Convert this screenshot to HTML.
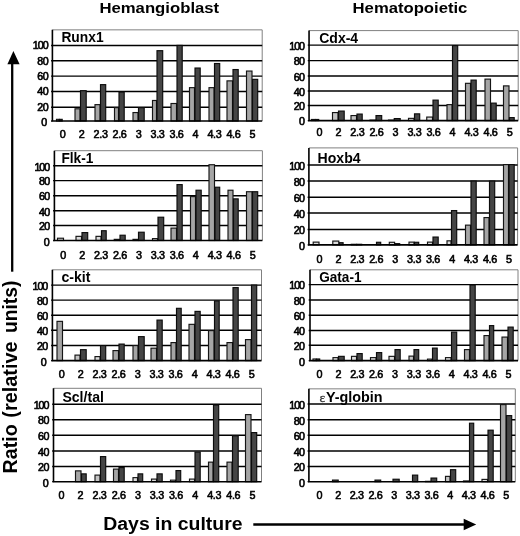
<!DOCTYPE html>
<html><head><meta charset="utf-8"><title>Figure</title>
<style>html,body{margin:0;padding:0;background:#fff}svg{display:block;filter:blur(0.4px)}</style>
</head><body>
<svg width="520" height="536" viewBox="0 0 520 536">
<rect width="520" height="536" fill="#fff"/>
<g font-family="'Liberation Sans', Arial, Helvetica, sans-serif" fill="#000">
<text x="99.4" y="13.3" font-size="15.5" font-weight="bold" textLength="119.8" lengthAdjust="spacingAndGlyphs">Hemangioblast</text>
<text x="352.6" y="13.3" font-size="15.5" font-weight="bold" textLength="114.8" lengthAdjust="spacingAndGlyphs">Hematopoietic</text>
<text transform="translate(16.6,473.4) rotate(-90) scale(1.09,1.1)" font-size="18" font-weight="bold">Ratio</text>
<text transform="translate(16.6,417.7) rotate(-90) scale(1.105,1.1)" font-size="18" font-weight="bold">(relative</text>
<text transform="translate(16.6,333.0) rotate(-90) scale(1.07,1.1)" font-size="18" font-weight="bold">units)</text>
<line x1="12.2" y1="271.7" x2="12.2" y2="63" stroke="#000" stroke-width="2.3"/>
<polygon points="13.4,51 19.6,64.3 7.4,64.3" fill="#000"/>
<text x="103.3" y="530.4" font-size="18" font-weight="bold" textLength="139.2" lengthAdjust="spacingAndGlyphs">Days in culture</text>
<line x1="253.3" y1="524.5" x2="464.5" y2="524.5" stroke="#000" stroke-width="2.3"/>
<polygon points="476.2,524.5 463.7,518.8 463.7,530.3" fill="#000"/>
<g>
<path d="M52.4 29.85 H262.2 V121.0" fill="none" stroke="#808080" stroke-width="1"/>
<line x1="51.10" y1="45.50" x2="262.20" y2="45.50" stroke="#000" stroke-width="1.45"/>
<line x1="51.10" y1="60.75" x2="262.20" y2="60.75" stroke="#000" stroke-width="1.45"/>
<line x1="51.10" y1="76.10" x2="262.20" y2="76.10" stroke="#000" stroke-width="1.45"/>
<line x1="51.10" y1="91.50" x2="262.20" y2="91.50" stroke="#000" stroke-width="1.45"/>
<line x1="51.10" y1="107.20" x2="262.20" y2="107.20" stroke="#000" stroke-width="1.45"/>
<rect x="56.50" y="119.34" width="2.50" height="1.66" fill="#dcdcdc" stroke="#151515" stroke-width="1.15"/>
<rect x="59.50" y="119.34" width="2.70" height="1.66" fill="#454545" stroke="#0c0c0c" stroke-width="1.15"/>
<rect x="75.00" y="108.78" width="5.00" height="12.22" fill="#a5a5a5" stroke="#151515" stroke-width="1.15"/>
<rect x="80.50" y="90.67" width="5.70" height="30.33" fill="#454545" stroke="#0c0c0c" stroke-width="1.15"/>
<rect x="95.00" y="104.63" width="5.00" height="16.37" fill="#a5a5a5" stroke="#151515" stroke-width="1.15"/>
<rect x="100.50" y="84.63" width="5.20" height="36.37" fill="#454545" stroke="#0c0c0c" stroke-width="1.15"/>
<rect x="114.50" y="107.65" width="4.00" height="13.35" fill="#a5a5a5" stroke="#151515" stroke-width="1.15"/>
<rect x="119.00" y="92.18" width="5.20" height="28.82" fill="#454545" stroke="#0c0c0c" stroke-width="1.15"/>
<rect x="133.00" y="112.55" width="5.00" height="8.45" fill="#a5a5a5" stroke="#151515" stroke-width="1.15"/>
<rect x="138.50" y="107.65" width="5.70" height="13.35" fill="#454545" stroke="#0c0c0c" stroke-width="1.15"/>
<rect x="152.50" y="100.48" width="4.00" height="20.52" fill="#a5a5a5" stroke="#151515" stroke-width="1.15"/>
<rect x="157.00" y="50.68" width="5.70" height="70.32" fill="#454545" stroke="#0c0c0c" stroke-width="1.15"/>
<rect x="171.00" y="103.50" width="5.50" height="17.50" fill="#a5a5a5" stroke="#151515" stroke-width="1.15"/>
<rect x="177.00" y="45.40" width="5.20" height="75.60" fill="#454545" stroke="#0c0c0c" stroke-width="1.15"/>
<rect x="189.50" y="87.65" width="5.00" height="33.35" fill="#a5a5a5" stroke="#151515" stroke-width="1.15"/>
<rect x="195.00" y="68.03" width="5.20" height="52.96" fill="#454545" stroke="#0c0c0c" stroke-width="1.15"/>
<rect x="209.00" y="87.65" width="5.00" height="33.35" fill="#a5a5a5" stroke="#151515" stroke-width="1.15"/>
<rect x="214.50" y="63.51" width="5.20" height="57.49" fill="#454545" stroke="#0c0c0c" stroke-width="1.15"/>
<rect x="227.00" y="80.86" width="5.50" height="40.14" fill="#a5a5a5" stroke="#151515" stroke-width="1.15"/>
<rect x="233.00" y="69.54" width="5.20" height="51.46" fill="#454545" stroke="#0c0c0c" stroke-width="1.15"/>
<rect x="246.50" y="71.05" width="5.50" height="49.95" fill="#a5a5a5" stroke="#151515" stroke-width="1.15"/>
<rect x="252.50" y="79.35" width="5.20" height="41.65" fill="#454545" stroke="#0c0c0c" stroke-width="1.15"/>
<path d="M52.4 29.85 V121.0 H262.2" fill="none" stroke="#000" stroke-width="1.6"/>
<line x1="51.10" y1="121.00" x2="52.4" y2="121.00" stroke="#000" stroke-width="1.3"/>
<text x="46.50" y="125.85" font-size="10.7" text-anchor="end" letter-spacing="-0.6" stroke="#000" stroke-width="0.62">0</text>
<text x="48.00" y="111.05" font-size="10.7" text-anchor="end" letter-spacing="-0.6" stroke="#000" stroke-width="0.62">20</text>
<text x="48.00" y="95.35" font-size="10.7" text-anchor="end" letter-spacing="-0.6" stroke="#000" stroke-width="0.62">40</text>
<text x="48.00" y="79.95" font-size="10.7" text-anchor="end" letter-spacing="-0.6" stroke="#000" stroke-width="0.62">60</text>
<text x="48.00" y="64.60" font-size="10.7" text-anchor="end" letter-spacing="-0.6" stroke="#000" stroke-width="0.62">80</text>
<text x="47.55" y="49.35" font-size="10.7" text-anchor="end" letter-spacing="-1.05" stroke="#000" stroke-width="0.62">100</text>
<text x="62.65" y="138.40" font-size="10.8" text-anchor="middle" letter-spacing="-0.35" stroke="#000" stroke-width="0.58">0</text>
<text x="81.62" y="138.40" font-size="10.8" text-anchor="middle" letter-spacing="-0.35" stroke="#000" stroke-width="0.58">2</text>
<text x="100.59" y="138.40" font-size="10.8" text-anchor="middle" letter-spacing="-0.35" stroke="#000" stroke-width="0.58">2.3</text>
<text x="119.56" y="138.40" font-size="10.8" text-anchor="middle" letter-spacing="-0.35" stroke="#000" stroke-width="0.58">2.6</text>
<text x="138.53" y="138.40" font-size="10.8" text-anchor="middle" letter-spacing="-0.35" stroke="#000" stroke-width="0.58">3</text>
<text x="157.50" y="138.40" font-size="10.8" text-anchor="middle" letter-spacing="-0.35" stroke="#000" stroke-width="0.58">3.3</text>
<text x="176.47" y="138.40" font-size="10.8" text-anchor="middle" letter-spacing="-0.35" stroke="#000" stroke-width="0.58">3.6</text>
<text x="195.44" y="138.40" font-size="10.8" text-anchor="middle" letter-spacing="-0.35" stroke="#000" stroke-width="0.58">4</text>
<text x="214.41" y="138.40" font-size="10.8" text-anchor="middle" letter-spacing="-0.35" stroke="#000" stroke-width="0.58">4.3</text>
<text x="233.38" y="138.40" font-size="10.8" text-anchor="middle" letter-spacing="-0.35" stroke="#000" stroke-width="0.58">4.6</text>
<text x="252.35" y="138.40" font-size="10.8" text-anchor="middle" letter-spacing="-0.35" stroke="#000" stroke-width="0.58">5</text>
<text x="61.40" y="42.30" font-size="14" font-weight="bold" textLength="42.2" lengthAdjust="spacingAndGlyphs">Runx1</text>
</g>
<g>
<path d="M54.4 150.7 H262.4 V240.5" fill="none" stroke="#808080" stroke-width="1"/>
<line x1="53.10" y1="165.75" x2="262.40" y2="165.75" stroke="#000" stroke-width="1.45"/>
<line x1="53.10" y1="180.60" x2="262.40" y2="180.60" stroke="#000" stroke-width="1.45"/>
<line x1="53.10" y1="195.70" x2="262.40" y2="195.70" stroke="#000" stroke-width="1.45"/>
<line x1="53.10" y1="210.80" x2="262.40" y2="210.80" stroke="#000" stroke-width="1.45"/>
<line x1="53.10" y1="225.50" x2="262.40" y2="225.50" stroke="#000" stroke-width="1.45"/>
<rect x="57.50" y="238.22" width="6.00" height="2.27" fill="#dcdcdc" stroke="#151515" stroke-width="1.15"/>
<rect x="76.00" y="236.35" width="5.50" height="4.15" fill="#dcdcdc" stroke="#151515" stroke-width="1.15"/>
<rect x="82.00" y="232.60" width="5.70" height="7.90" fill="#454545" stroke="#0c0c0c" stroke-width="1.15"/>
<rect x="96.00" y="236.35" width="5.00" height="4.15" fill="#dcdcdc" stroke="#151515" stroke-width="1.15"/>
<rect x="101.50" y="230.72" width="4.70" height="9.78" fill="#454545" stroke="#0c0c0c" stroke-width="1.15"/>
<rect x="114.25" y="239.35" width="5.25" height="1.15" fill="#dcdcdc" stroke="#151515" stroke-width="1.15"/>
<rect x="120.00" y="235.22" width="5.20" height="5.28" fill="#454545" stroke="#0c0c0c" stroke-width="1.15"/>
<rect x="133.00" y="239.35" width="5.00" height="1.15" fill="#dcdcdc" stroke="#151515" stroke-width="1.15"/>
<rect x="138.50" y="232.22" width="5.70" height="8.28" fill="#454545" stroke="#0c0c0c" stroke-width="1.15"/>
<rect x="152.50" y="238.60" width="5.00" height="1.90" fill="#dcdcdc" stroke="#151515" stroke-width="1.15"/>
<rect x="158.00" y="217.22" width="5.70" height="23.27" fill="#454545" stroke="#0c0c0c" stroke-width="1.15"/>
<rect x="171.00" y="228.10" width="5.50" height="12.40" fill="#a5a5a5" stroke="#151515" stroke-width="1.15"/>
<rect x="177.00" y="184.60" width="5.20" height="55.90" fill="#454545" stroke="#0c0c0c" stroke-width="1.15"/>
<rect x="190.50" y="196.60" width="5.00" height="43.90" fill="#a5a5a5" stroke="#151515" stroke-width="1.15"/>
<rect x="196.00" y="190.22" width="5.20" height="50.27" fill="#454545" stroke="#0c0c0c" stroke-width="1.15"/>
<rect x="209.00" y="164.72" width="5.50" height="75.78" fill="#a5a5a5" stroke="#151515" stroke-width="1.15"/>
<rect x="215.00" y="187.22" width="4.70" height="53.27" fill="#454545" stroke="#0c0c0c" stroke-width="1.15"/>
<rect x="228.00" y="190.22" width="5.00" height="50.27" fill="#a5a5a5" stroke="#151515" stroke-width="1.15"/>
<rect x="233.50" y="198.85" width="4.70" height="41.65" fill="#454545" stroke="#0c0c0c" stroke-width="1.15"/>
<rect x="246.50" y="191.72" width="5.50" height="48.77" fill="#a5a5a5" stroke="#151515" stroke-width="1.15"/>
<rect x="252.50" y="191.72" width="5.20" height="48.77" fill="#454545" stroke="#0c0c0c" stroke-width="1.15"/>
<path d="M54.4 150.7 V240.5 H262.4" fill="none" stroke="#000" stroke-width="1.6"/>
<line x1="53.10" y1="240.50" x2="54.4" y2="240.50" stroke="#000" stroke-width="1.3"/>
<text x="49.20" y="245.85" font-size="10.7" text-anchor="end" letter-spacing="-0.6" stroke="#000" stroke-width="0.62">0</text>
<text x="49.60" y="230.25" font-size="10.7" text-anchor="end" letter-spacing="-0.6" stroke="#000" stroke-width="0.62">20</text>
<text x="49.60" y="215.55" font-size="10.7" text-anchor="end" letter-spacing="-0.6" stroke="#000" stroke-width="0.62">40</text>
<text x="49.60" y="200.45" font-size="10.7" text-anchor="end" letter-spacing="-0.6" stroke="#000" stroke-width="0.62">60</text>
<text x="49.60" y="185.35" font-size="10.7" text-anchor="end" letter-spacing="-0.6" stroke="#000" stroke-width="0.62">80</text>
<text x="49.15" y="170.50" font-size="10.7" text-anchor="end" letter-spacing="-1.05" stroke="#000" stroke-width="0.62">100</text>
<text x="63.05" y="258.70" font-size="10.8" text-anchor="middle" letter-spacing="-0.35" stroke="#000" stroke-width="0.58">0</text>
<text x="82.00" y="258.70" font-size="10.8" text-anchor="middle" letter-spacing="-0.35" stroke="#000" stroke-width="0.58">2</text>
<text x="100.95" y="258.70" font-size="10.8" text-anchor="middle" letter-spacing="-0.35" stroke="#000" stroke-width="0.58">2.3</text>
<text x="119.90" y="258.70" font-size="10.8" text-anchor="middle" letter-spacing="-0.35" stroke="#000" stroke-width="0.58">2.6</text>
<text x="138.85" y="258.70" font-size="10.8" text-anchor="middle" letter-spacing="-0.35" stroke="#000" stroke-width="0.58">3</text>
<text x="157.80" y="258.70" font-size="10.8" text-anchor="middle" letter-spacing="-0.35" stroke="#000" stroke-width="0.58">3.3</text>
<text x="176.75" y="258.70" font-size="10.8" text-anchor="middle" letter-spacing="-0.35" stroke="#000" stroke-width="0.58">3.6</text>
<text x="195.70" y="258.70" font-size="10.8" text-anchor="middle" letter-spacing="-0.35" stroke="#000" stroke-width="0.58">4</text>
<text x="214.65" y="258.70" font-size="10.8" text-anchor="middle" letter-spacing="-0.35" stroke="#000" stroke-width="0.58">4.3</text>
<text x="233.60" y="258.70" font-size="10.8" text-anchor="middle" letter-spacing="-0.35" stroke="#000" stroke-width="0.58">4.6</text>
<text x="252.55" y="258.70" font-size="10.8" text-anchor="middle" letter-spacing="-0.35" stroke="#000" stroke-width="0.58">5</text>
<text x="61.40" y="163.00" font-size="14" font-weight="bold" textLength="32.0" lengthAdjust="spacingAndGlyphs">Flk-1</text>
</g>
<g>
<path d="M52.4 269.8 H261.5 V360.6" fill="none" stroke="#808080" stroke-width="1"/>
<line x1="51.10" y1="285.10" x2="261.50" y2="285.10" stroke="#000" stroke-width="1.45"/>
<line x1="51.10" y1="300.10" x2="261.50" y2="300.10" stroke="#000" stroke-width="1.45"/>
<line x1="51.10" y1="315.30" x2="261.50" y2="315.30" stroke="#000" stroke-width="1.45"/>
<line x1="51.10" y1="330.30" x2="261.50" y2="330.30" stroke="#000" stroke-width="1.45"/>
<line x1="51.10" y1="345.40" x2="261.50" y2="345.40" stroke="#000" stroke-width="1.45"/>
<rect x="57.00" y="321.36" width="5.50" height="39.24" fill="#a5a5a5" stroke="#151515" stroke-width="1.15"/>
<rect x="75.00" y="355.11" width="5.00" height="5.49" fill="#c4c4c4" stroke="#151515" stroke-width="1.15"/>
<rect x="80.50" y="349.67" width="5.70" height="10.93" fill="#454545" stroke="#0c0c0c" stroke-width="1.15"/>
<rect x="95.00" y="356.60" width="5.00" height="4.00" fill="#dcdcdc" stroke="#151515" stroke-width="1.15"/>
<rect x="100.50" y="345.57" width="5.20" height="15.03" fill="#454545" stroke="#0c0c0c" stroke-width="1.15"/>
<rect x="113.00" y="350.60" width="5.50" height="10.00" fill="#a5a5a5" stroke="#151515" stroke-width="1.15"/>
<rect x="119.00" y="344.08" width="5.20" height="16.52" fill="#454545" stroke="#0c0c0c" stroke-width="1.15"/>
<rect x="133.00" y="345.57" width="5.00" height="15.03" fill="#a5a5a5" stroke="#151515" stroke-width="1.15"/>
<rect x="138.50" y="336.63" width="5.70" height="23.97" fill="#454545" stroke="#0c0c0c" stroke-width="1.15"/>
<rect x="151.00" y="348.18" width="5.50" height="12.42" fill="#a5a5a5" stroke="#151515" stroke-width="1.15"/>
<rect x="157.00" y="320.09" width="5.20" height="40.51" fill="#454545" stroke="#0c0c0c" stroke-width="1.15"/>
<rect x="171.00" y="342.59" width="5.00" height="18.01" fill="#a5a5a5" stroke="#151515" stroke-width="1.15"/>
<rect x="176.50" y="308.32" width="4.70" height="52.28" fill="#454545" stroke="#0c0c0c" stroke-width="1.15"/>
<rect x="189.00" y="324.34" width="5.50" height="36.26" fill="#a5a5a5" stroke="#151515" stroke-width="1.15"/>
<rect x="195.00" y="311.38" width="5.20" height="49.22" fill="#454545" stroke="#0c0c0c" stroke-width="1.15"/>
<rect x="208.50" y="330.60" width="5.50" height="30.00" fill="#a5a5a5" stroke="#151515" stroke-width="1.15"/>
<rect x="214.50" y="300.87" width="4.70" height="59.73" fill="#454545" stroke="#0c0c0c" stroke-width="1.15"/>
<rect x="227.00" y="342.59" width="5.50" height="18.01" fill="#a5a5a5" stroke="#151515" stroke-width="1.15"/>
<rect x="233.00" y="287.61" width="5.20" height="72.99" fill="#454545" stroke="#0c0c0c" stroke-width="1.15"/>
<rect x="245.50" y="339.61" width="5.50" height="20.99" fill="#a5a5a5" stroke="#151515" stroke-width="1.15"/>
<rect x="251.50" y="285.08" width="5.20" height="75.52" fill="#454545" stroke="#0c0c0c" stroke-width="1.15"/>
<path d="M52.4 269.8 V360.6 H261.5" fill="none" stroke="#000" stroke-width="1.6"/>
<line x1="51.10" y1="360.60" x2="52.4" y2="360.60" stroke="#000" stroke-width="1.3"/>
<text x="46.20" y="365.95" font-size="10.7" text-anchor="end" letter-spacing="-0.6" stroke="#000" stroke-width="0.62">0</text>
<text x="47.70" y="349.95" font-size="10.7" text-anchor="end" letter-spacing="-0.6" stroke="#000" stroke-width="0.62">20</text>
<text x="47.70" y="334.85" font-size="10.7" text-anchor="end" letter-spacing="-0.6" stroke="#000" stroke-width="0.62">40</text>
<text x="47.70" y="319.85" font-size="10.7" text-anchor="end" letter-spacing="-0.6" stroke="#000" stroke-width="0.62">60</text>
<text x="47.70" y="304.65" font-size="10.7" text-anchor="end" letter-spacing="-0.6" stroke="#000" stroke-width="0.62">80</text>
<text x="47.25" y="289.65" font-size="10.7" text-anchor="end" letter-spacing="-1.05" stroke="#000" stroke-width="0.62">100</text>
<text x="61.55" y="377.90" font-size="10.8" text-anchor="middle" letter-spacing="-0.35" stroke="#000" stroke-width="0.58">0</text>
<text x="80.55" y="377.90" font-size="10.8" text-anchor="middle" letter-spacing="-0.35" stroke="#000" stroke-width="0.58">2</text>
<text x="99.55" y="377.90" font-size="10.8" text-anchor="middle" letter-spacing="-0.35" stroke="#000" stroke-width="0.58">2.3</text>
<text x="118.55" y="377.90" font-size="10.8" text-anchor="middle" letter-spacing="-0.35" stroke="#000" stroke-width="0.58">2.6</text>
<text x="137.55" y="377.90" font-size="10.8" text-anchor="middle" letter-spacing="-0.35" stroke="#000" stroke-width="0.58">3</text>
<text x="156.55" y="377.90" font-size="10.8" text-anchor="middle" letter-spacing="-0.35" stroke="#000" stroke-width="0.58">3.3</text>
<text x="175.55" y="377.90" font-size="10.8" text-anchor="middle" letter-spacing="-0.35" stroke="#000" stroke-width="0.58">3.6</text>
<text x="194.55" y="377.90" font-size="10.8" text-anchor="middle" letter-spacing="-0.35" stroke="#000" stroke-width="0.58">4</text>
<text x="213.55" y="377.90" font-size="10.8" text-anchor="middle" letter-spacing="-0.35" stroke="#000" stroke-width="0.58">4.3</text>
<text x="232.55" y="377.90" font-size="10.8" text-anchor="middle" letter-spacing="-0.35" stroke="#000" stroke-width="0.58">4.6</text>
<text x="251.55" y="377.90" font-size="10.8" text-anchor="middle" letter-spacing="-0.35" stroke="#000" stroke-width="0.58">5</text>
<text x="61.40" y="282.00" font-size="14" font-weight="bold" textLength="29.0" lengthAdjust="spacingAndGlyphs">c-kit</text>
</g>
<g>
<path d="M53.5 388.3 H261.5 V481.7" fill="none" stroke="#808080" stroke-width="1"/>
<line x1="52.20" y1="404.20" x2="261.50" y2="404.20" stroke="#000" stroke-width="1.45"/>
<line x1="52.20" y1="419.80" x2="261.50" y2="419.80" stroke="#000" stroke-width="1.45"/>
<line x1="52.20" y1="435.30" x2="261.50" y2="435.30" stroke="#000" stroke-width="1.45"/>
<line x1="52.20" y1="450.90" x2="261.50" y2="450.90" stroke="#000" stroke-width="1.45"/>
<line x1="52.20" y1="466.50" x2="261.50" y2="466.50" stroke="#000" stroke-width="1.45"/>
<rect x="75.50" y="470.87" width="5.50" height="10.83" fill="#a5a5a5" stroke="#151515" stroke-width="1.15"/>
<rect x="81.50" y="473.87" width="4.70" height="7.83" fill="#454545" stroke="#0c0c0c" stroke-width="1.15"/>
<rect x="95.00" y="475.10" width="5.00" height="6.60" fill="#c4c4c4" stroke="#151515" stroke-width="1.15"/>
<rect x="100.50" y="456.60" width="5.20" height="25.10" fill="#454545" stroke="#0c0c0c" stroke-width="1.15"/>
<rect x="113.50" y="469.11" width="5.00" height="12.59" fill="#a5a5a5" stroke="#151515" stroke-width="1.15"/>
<rect x="119.00" y="467.57" width="5.20" height="14.13" fill="#454545" stroke="#0c0c0c" stroke-width="1.15"/>
<rect x="133.00" y="477.63" width="4.50" height="4.07" fill="#dcdcdc" stroke="#151515" stroke-width="1.15"/>
<rect x="138.00" y="473.87" width="4.70" height="7.83" fill="#454545" stroke="#0c0c0c" stroke-width="1.15"/>
<rect x="151.50" y="479.09" width="5.00" height="2.61" fill="#dcdcdc" stroke="#151515" stroke-width="1.15"/>
<rect x="157.00" y="473.87" width="5.20" height="7.83" fill="#454545" stroke="#0c0c0c" stroke-width="1.15"/>
<rect x="170.50" y="480.16" width="5.00" height="1.54" fill="#dcdcdc" stroke="#151515" stroke-width="1.15"/>
<rect x="176.00" y="470.57" width="4.70" height="11.13" fill="#454545" stroke="#0c0c0c" stroke-width="1.15"/>
<rect x="189.50" y="479.09" width="5.00" height="2.61" fill="#dcdcdc" stroke="#151515" stroke-width="1.15"/>
<rect x="195.00" y="452.07" width="5.20" height="29.63" fill="#454545" stroke="#0c0c0c" stroke-width="1.15"/>
<rect x="208.50" y="462.13" width="4.50" height="19.57" fill="#a5a5a5" stroke="#151515" stroke-width="1.15"/>
<rect x="213.50" y="405.10" width="5.20" height="76.60" fill="#454545" stroke="#0c0c0c" stroke-width="1.15"/>
<rect x="227.00" y="462.13" width="5.00" height="19.57" fill="#a5a5a5" stroke="#151515" stroke-width="1.15"/>
<rect x="232.50" y="435.80" width="5.70" height="45.90" fill="#454545" stroke="#0c0c0c" stroke-width="1.15"/>
<rect x="245.50" y="414.62" width="5.50" height="67.08" fill="#a5a5a5" stroke="#151515" stroke-width="1.15"/>
<rect x="251.50" y="432.58" width="5.20" height="49.12" fill="#454545" stroke="#0c0c0c" stroke-width="1.15"/>
<path d="M53.5 388.3 V481.7 H261.5" fill="none" stroke="#000" stroke-width="1.6"/>
<line x1="52.20" y1="481.70" x2="53.5" y2="481.70" stroke="#000" stroke-width="1.3"/>
<text x="48.10" y="486.85" font-size="10.7" text-anchor="end" letter-spacing="-0.6" stroke="#000" stroke-width="0.62">0</text>
<text x="48.80" y="471.15" font-size="10.7" text-anchor="end" letter-spacing="-0.6" stroke="#000" stroke-width="0.62">20</text>
<text x="48.80" y="455.55" font-size="10.7" text-anchor="end" letter-spacing="-0.6" stroke="#000" stroke-width="0.62">40</text>
<text x="48.80" y="439.95" font-size="10.7" text-anchor="end" letter-spacing="-0.6" stroke="#000" stroke-width="0.62">60</text>
<text x="48.80" y="424.45" font-size="10.7" text-anchor="end" letter-spacing="-0.6" stroke="#000" stroke-width="0.62">80</text>
<text x="48.35" y="408.85" font-size="10.7" text-anchor="end" letter-spacing="-1.05" stroke="#000" stroke-width="0.62">100</text>
<text x="61.35" y="499.10" font-size="10.8" text-anchor="middle" letter-spacing="-0.35" stroke="#000" stroke-width="0.58">0</text>
<text x="80.45" y="499.10" font-size="10.8" text-anchor="middle" letter-spacing="-0.35" stroke="#000" stroke-width="0.58">2</text>
<text x="99.55" y="499.10" font-size="10.8" text-anchor="middle" letter-spacing="-0.35" stroke="#000" stroke-width="0.58">2.3</text>
<text x="118.65" y="499.10" font-size="10.8" text-anchor="middle" letter-spacing="-0.35" stroke="#000" stroke-width="0.58">2.6</text>
<text x="137.75" y="499.10" font-size="10.8" text-anchor="middle" letter-spacing="-0.35" stroke="#000" stroke-width="0.58">3</text>
<text x="156.85" y="499.10" font-size="10.8" text-anchor="middle" letter-spacing="-0.35" stroke="#000" stroke-width="0.58">3.3</text>
<text x="175.95" y="499.10" font-size="10.8" text-anchor="middle" letter-spacing="-0.35" stroke="#000" stroke-width="0.58">3.6</text>
<text x="195.05" y="499.10" font-size="10.8" text-anchor="middle" letter-spacing="-0.35" stroke="#000" stroke-width="0.58">4</text>
<text x="214.15" y="499.10" font-size="10.8" text-anchor="middle" letter-spacing="-0.35" stroke="#000" stroke-width="0.58">4.3</text>
<text x="233.25" y="499.10" font-size="10.8" text-anchor="middle" letter-spacing="-0.35" stroke="#000" stroke-width="0.58">4.6</text>
<text x="252.35" y="499.10" font-size="10.8" text-anchor="middle" letter-spacing="-0.35" stroke="#000" stroke-width="0.58">5</text>
<text x="62.40" y="402.00" font-size="14" font-weight="bold" textLength="41.5" lengthAdjust="spacingAndGlyphs">Scl/tal</text>
</g>
<g>
<path d="M309.05 30.6 H518.2 V120.6" fill="none" stroke="#808080" stroke-width="1"/>
<line x1="307.75" y1="45.10" x2="518.20" y2="45.10" stroke="#000" stroke-width="1.45"/>
<line x1="307.75" y1="60.60" x2="518.20" y2="60.60" stroke="#000" stroke-width="1.45"/>
<line x1="307.75" y1="75.90" x2="518.20" y2="75.90" stroke="#000" stroke-width="1.45"/>
<line x1="307.75" y1="90.90" x2="518.20" y2="90.90" stroke="#000" stroke-width="1.45"/>
<line x1="307.75" y1="105.50" x2="518.20" y2="105.50" stroke="#000" stroke-width="1.45"/>
<rect x="311.50" y="119.47" width="3.50" height="1.12" fill="#dcdcdc" stroke="#151515" stroke-width="1.15"/>
<rect x="315.50" y="119.47" width="3.20" height="1.12" fill="#454545" stroke="#0c0c0c" stroke-width="1.15"/>
<rect x="332.50" y="112.57" width="5.50" height="8.03" fill="#c4c4c4" stroke="#151515" stroke-width="1.15"/>
<rect x="338.50" y="111.07" width="5.70" height="9.53" fill="#454545" stroke="#0c0c0c" stroke-width="1.15"/>
<rect x="351.00" y="115.57" width="5.50" height="5.03" fill="#c4c4c4" stroke="#151515" stroke-width="1.15"/>
<rect x="357.00" y="114.07" width="5.20" height="6.53" fill="#454545" stroke="#0c0c0c" stroke-width="1.15"/>
<rect x="370.00" y="120.07" width="5.50" height="0.53" fill="#dcdcdc" stroke="#151515" stroke-width="1.15"/>
<rect x="376.00" y="115.57" width="5.70" height="5.03" fill="#454545" stroke="#0c0c0c" stroke-width="1.15"/>
<rect x="388.50" y="120.07" width="5.25" height="0.53" fill="#dcdcdc" stroke="#151515" stroke-width="1.15"/>
<rect x="394.25" y="118.57" width="5.95" height="2.02" fill="#454545" stroke="#0c0c0c" stroke-width="1.15"/>
<rect x="408.50" y="118.35" width="5.50" height="2.25" fill="#dcdcdc" stroke="#151515" stroke-width="1.15"/>
<rect x="414.50" y="113.85" width="5.20" height="6.75" fill="#454545" stroke="#0c0c0c" stroke-width="1.15"/>
<rect x="426.75" y="117.07" width="5.75" height="3.52" fill="#dcdcdc" stroke="#151515" stroke-width="1.15"/>
<rect x="433.00" y="100.12" width="5.20" height="20.47" fill="#454545" stroke="#0c0c0c" stroke-width="1.15"/>
<rect x="447.00" y="104.62" width="5.00" height="15.97" fill="#a5a5a5" stroke="#151515" stroke-width="1.15"/>
<rect x="452.50" y="45.60" width="5.20" height="75.00" fill="#454545" stroke="#0c0c0c" stroke-width="1.15"/>
<rect x="465.50" y="83.32" width="5.00" height="37.27" fill="#a5a5a5" stroke="#151515" stroke-width="1.15"/>
<rect x="471.00" y="80.10" width="5.20" height="40.50" fill="#454545" stroke="#0c0c0c" stroke-width="1.15"/>
<rect x="485.00" y="79.12" width="5.50" height="41.47" fill="#a5a5a5" stroke="#151515" stroke-width="1.15"/>
<rect x="491.00" y="103.12" width="5.20" height="17.47" fill="#454545" stroke="#0c0c0c" stroke-width="1.15"/>
<rect x="503.50" y="85.88" width="5.50" height="34.72" fill="#a5a5a5" stroke="#151515" stroke-width="1.15"/>
<rect x="509.50" y="117.60" width="4.70" height="3.00" fill="#454545" stroke="#0c0c0c" stroke-width="1.15"/>
<path d="M309.05 30.6 V120.6 H518.2" fill="none" stroke="#000" stroke-width="1.6"/>
<line x1="307.75" y1="120.60" x2="309.05" y2="120.60" stroke="#000" stroke-width="1.3"/>
<text x="304.40" y="124.65" font-size="10.7" text-anchor="end" letter-spacing="-0.6" stroke="#000" stroke-width="0.62">0</text>
<text x="304.40" y="110.35" font-size="10.7" text-anchor="end" letter-spacing="-0.6" stroke="#000" stroke-width="0.62">20</text>
<text x="304.40" y="95.75" font-size="10.7" text-anchor="end" letter-spacing="-0.6" stroke="#000" stroke-width="0.62">40</text>
<text x="304.40" y="80.75" font-size="10.7" text-anchor="end" letter-spacing="-0.6" stroke="#000" stroke-width="0.62">60</text>
<text x="304.40" y="65.45" font-size="10.7" text-anchor="end" letter-spacing="-0.6" stroke="#000" stroke-width="0.62">80</text>
<text x="303.95" y="49.95" font-size="10.7" text-anchor="end" letter-spacing="-1.05" stroke="#000" stroke-width="0.62">100</text>
<text x="319.30" y="136.10" font-size="10.8" text-anchor="middle" letter-spacing="-0.35" stroke="#000" stroke-width="0.58">0</text>
<text x="338.32" y="136.10" font-size="10.8" text-anchor="middle" letter-spacing="-0.35" stroke="#000" stroke-width="0.58">2</text>
<text x="357.34" y="136.10" font-size="10.8" text-anchor="middle" letter-spacing="-0.35" stroke="#000" stroke-width="0.58">2.3</text>
<text x="376.36" y="136.10" font-size="10.8" text-anchor="middle" letter-spacing="-0.35" stroke="#000" stroke-width="0.58">2.6</text>
<text x="395.38" y="136.10" font-size="10.8" text-anchor="middle" letter-spacing="-0.35" stroke="#000" stroke-width="0.58">3</text>
<text x="414.40" y="136.10" font-size="10.8" text-anchor="middle" letter-spacing="-0.35" stroke="#000" stroke-width="0.58">3.3</text>
<text x="433.42" y="136.10" font-size="10.8" text-anchor="middle" letter-spacing="-0.35" stroke="#000" stroke-width="0.58">3.6</text>
<text x="452.44" y="136.10" font-size="10.8" text-anchor="middle" letter-spacing="-0.35" stroke="#000" stroke-width="0.58">4</text>
<text x="471.46" y="136.10" font-size="10.8" text-anchor="middle" letter-spacing="-0.35" stroke="#000" stroke-width="0.58">4.3</text>
<text x="490.48" y="136.10" font-size="10.8" text-anchor="middle" letter-spacing="-0.35" stroke="#000" stroke-width="0.58">4.6</text>
<text x="509.50" y="136.10" font-size="10.8" text-anchor="middle" letter-spacing="-0.35" stroke="#000" stroke-width="0.58">5</text>
<text x="319.20" y="43.00" font-size="14" font-weight="bold" textLength="39.0" lengthAdjust="spacingAndGlyphs">Cdx-4</text>
</g>
<g>
<path d="M308.9 147.9 H517.6 V244.85" fill="none" stroke="#808080" stroke-width="1"/>
<line x1="307.60" y1="165.00" x2="517.60" y2="165.00" stroke="#000" stroke-width="1.45"/>
<line x1="307.60" y1="181.00" x2="517.60" y2="181.00" stroke="#000" stroke-width="1.45"/>
<line x1="307.60" y1="197.20" x2="517.60" y2="197.20" stroke="#000" stroke-width="1.45"/>
<line x1="307.60" y1="212.90" x2="517.60" y2="212.90" stroke="#000" stroke-width="1.45"/>
<line x1="307.60" y1="229.40" x2="517.60" y2="229.40" stroke="#000" stroke-width="1.45"/>
<rect x="313.20" y="242.12" width="5.80" height="2.73" fill="#dcdcdc" stroke="#151515" stroke-width="1.15"/>
<rect x="332.80" y="241.07" width="6.00" height="3.77" fill="#dcdcdc" stroke="#151515" stroke-width="1.15"/>
<rect x="339.30" y="242.69" width="3.80" height="2.16" fill="#454545" stroke="#0c0c0c" stroke-width="1.15"/>
<rect x="351.30" y="244.29" width="5.20" height="0.56" fill="#dcdcdc" stroke="#151515" stroke-width="1.15"/>
<rect x="357.00" y="244.29" width="4.70" height="0.56" fill="#454545" stroke="#0c0c0c" stroke-width="1.15"/>
<rect x="376.50" y="242.28" width="4.20" height="2.57" fill="#454545" stroke="#0c0c0c" stroke-width="1.15"/>
<rect x="389.30" y="242.28" width="5.30" height="2.57" fill="#dcdcdc" stroke="#151515" stroke-width="1.15"/>
<rect x="395.10" y="243.65" width="4.60" height="1.20" fill="#454545" stroke="#0c0c0c" stroke-width="1.15"/>
<rect x="409.00" y="242.12" width="5.00" height="2.73" fill="#dcdcdc" stroke="#151515" stroke-width="1.15"/>
<rect x="414.50" y="242.28" width="4.20" height="2.57" fill="#454545" stroke="#0c0c0c" stroke-width="1.15"/>
<rect x="427.50" y="242.12" width="5.00" height="2.73" fill="#dcdcdc" stroke="#151515" stroke-width="1.15"/>
<rect x="433.00" y="237.05" width="5.20" height="7.80" fill="#454545" stroke="#0c0c0c" stroke-width="1.15"/>
<rect x="447.00" y="240.83" width="4.00" height="4.02" fill="#dcdcdc" stroke="#151515" stroke-width="1.15"/>
<rect x="451.50" y="210.57" width="5.20" height="34.28" fill="#454545" stroke="#0c0c0c" stroke-width="1.15"/>
<rect x="465.50" y="225.14" width="5.00" height="19.71" fill="#a5a5a5" stroke="#151515" stroke-width="1.15"/>
<rect x="471.00" y="181.10" width="5.20" height="63.75" fill="#454545" stroke="#0c0c0c" stroke-width="1.15"/>
<rect x="484.00" y="217.57" width="5.00" height="27.28" fill="#a5a5a5" stroke="#151515" stroke-width="1.15"/>
<rect x="489.50" y="181.10" width="5.20" height="63.75" fill="#454545" stroke="#0c0c0c" stroke-width="1.15"/>
<rect x="503.50" y="164.60" width="5.00" height="80.25" fill="#a5a5a5" stroke="#151515" stroke-width="1.15"/>
<rect x="509.00" y="164.60" width="5.20" height="80.25" fill="#454545" stroke="#0c0c0c" stroke-width="1.15"/>
<path d="M308.9 147.9 V244.85 H517.6" fill="none" stroke="#000" stroke-width="1.6"/>
<line x1="307.60" y1="244.85" x2="308.9" y2="244.85" stroke="#000" stroke-width="1.3"/>
<text x="304.40" y="250.15" font-size="10.7" text-anchor="end" letter-spacing="-0.6" stroke="#000" stroke-width="0.62">0</text>
<text x="304.40" y="234.35" font-size="10.7" text-anchor="end" letter-spacing="-0.6" stroke="#000" stroke-width="0.62">20</text>
<text x="304.40" y="217.85" font-size="10.7" text-anchor="end" letter-spacing="-0.6" stroke="#000" stroke-width="0.62">40</text>
<text x="304.40" y="202.15" font-size="10.7" text-anchor="end" letter-spacing="-0.6" stroke="#000" stroke-width="0.62">60</text>
<text x="304.40" y="185.95" font-size="10.7" text-anchor="end" letter-spacing="-0.6" stroke="#000" stroke-width="0.62">80</text>
<text x="303.95" y="169.95" font-size="10.7" text-anchor="end" letter-spacing="-1.05" stroke="#000" stroke-width="0.62">100</text>
<text x="319.35" y="262.50" font-size="10.8" text-anchor="middle" letter-spacing="-0.35" stroke="#000" stroke-width="0.58">0</text>
<text x="338.30" y="262.50" font-size="10.8" text-anchor="middle" letter-spacing="-0.35" stroke="#000" stroke-width="0.58">2</text>
<text x="357.25" y="262.50" font-size="10.8" text-anchor="middle" letter-spacing="-0.35" stroke="#000" stroke-width="0.58">2.3</text>
<text x="376.20" y="262.50" font-size="10.8" text-anchor="middle" letter-spacing="-0.35" stroke="#000" stroke-width="0.58">2.6</text>
<text x="395.15" y="262.50" font-size="10.8" text-anchor="middle" letter-spacing="-0.35" stroke="#000" stroke-width="0.58">3</text>
<text x="414.10" y="262.50" font-size="10.8" text-anchor="middle" letter-spacing="-0.35" stroke="#000" stroke-width="0.58">3.3</text>
<text x="433.05" y="262.50" font-size="10.8" text-anchor="middle" letter-spacing="-0.35" stroke="#000" stroke-width="0.58">3.6</text>
<text x="452.00" y="262.50" font-size="10.8" text-anchor="middle" letter-spacing="-0.35" stroke="#000" stroke-width="0.58">4</text>
<text x="470.95" y="262.50" font-size="10.8" text-anchor="middle" letter-spacing="-0.35" stroke="#000" stroke-width="0.58">4.3</text>
<text x="489.90" y="262.50" font-size="10.8" text-anchor="middle" letter-spacing="-0.35" stroke="#000" stroke-width="0.58">4.6</text>
<text x="508.85" y="262.50" font-size="10.8" text-anchor="middle" letter-spacing="-0.35" stroke="#000" stroke-width="0.58">5</text>
<text x="317.60" y="162.50" font-size="14" font-weight="bold" textLength="43.0" lengthAdjust="spacingAndGlyphs">Hoxb4</text>
</g>
<g>
<path d="M310.0 269.8 H518 V360.65" fill="none" stroke="#808080" stroke-width="1"/>
<line x1="308.70" y1="284.60" x2="518.00" y2="284.60" stroke="#000" stroke-width="1.45"/>
<line x1="308.70" y1="299.90" x2="518.00" y2="299.90" stroke="#000" stroke-width="1.45"/>
<line x1="308.70" y1="315.20" x2="518.00" y2="315.20" stroke="#000" stroke-width="1.45"/>
<line x1="308.70" y1="330.40" x2="518.00" y2="330.40" stroke="#000" stroke-width="1.45"/>
<line x1="308.70" y1="345.30" x2="518.00" y2="345.30" stroke="#000" stroke-width="1.45"/>
<rect x="313.00" y="358.98" width="3.00" height="1.67" fill="#dcdcdc" stroke="#151515" stroke-width="1.15"/>
<rect x="316.50" y="358.98" width="3.20" height="1.67" fill="#454545" stroke="#0c0c0c" stroke-width="1.15"/>
<rect x="333.00" y="357.62" width="5.00" height="3.02" fill="#dcdcdc" stroke="#151515" stroke-width="1.15"/>
<rect x="338.50" y="356.35" width="5.70" height="4.30" fill="#454545" stroke="#0c0c0c" stroke-width="1.15"/>
<rect x="351.50" y="356.35" width="5.00" height="4.30" fill="#dcdcdc" stroke="#151515" stroke-width="1.15"/>
<rect x="357.00" y="353.58" width="5.20" height="7.07" fill="#454545" stroke="#0c0c0c" stroke-width="1.15"/>
<rect x="370.50" y="357.62" width="5.50" height="3.02" fill="#dcdcdc" stroke="#151515" stroke-width="1.15"/>
<rect x="376.50" y="352.60" width="5.20" height="8.05" fill="#454545" stroke="#0c0c0c" stroke-width="1.15"/>
<rect x="389.00" y="356.35" width="5.50" height="4.30" fill="#dcdcdc" stroke="#151515" stroke-width="1.15"/>
<rect x="395.00" y="349.60" width="5.20" height="11.05" fill="#454545" stroke="#0c0c0c" stroke-width="1.15"/>
<rect x="409.00" y="356.12" width="4.50" height="4.53" fill="#c4c4c4" stroke="#151515" stroke-width="1.15"/>
<rect x="414.00" y="349.60" width="4.70" height="11.05" fill="#454545" stroke="#0c0c0c" stroke-width="1.15"/>
<rect x="427.50" y="359.12" width="4.50" height="1.52" fill="#dcdcdc" stroke="#151515" stroke-width="1.15"/>
<rect x="432.50" y="348.10" width="4.70" height="12.55" fill="#454545" stroke="#0c0c0c" stroke-width="1.15"/>
<rect x="445.50" y="357.62" width="5.50" height="3.02" fill="#dcdcdc" stroke="#151515" stroke-width="1.15"/>
<rect x="451.50" y="332.12" width="5.20" height="28.52" fill="#454545" stroke="#0c0c0c" stroke-width="1.15"/>
<rect x="464.50" y="349.60" width="5.00" height="11.05" fill="#a5a5a5" stroke="#151515" stroke-width="1.15"/>
<rect x="470.00" y="285.10" width="5.20" height="75.55" fill="#454545" stroke="#0c0c0c" stroke-width="1.15"/>
<rect x="484.00" y="335.58" width="5.00" height="25.07" fill="#a5a5a5" stroke="#151515" stroke-width="1.15"/>
<rect x="489.50" y="325.60" width="4.20" height="35.05" fill="#454545" stroke="#0c0c0c" stroke-width="1.15"/>
<rect x="502.00" y="337.08" width="5.50" height="23.57" fill="#a5a5a5" stroke="#151515" stroke-width="1.15"/>
<rect x="508.00" y="327.10" width="5.20" height="33.55" fill="#454545" stroke="#0c0c0c" stroke-width="1.15"/>
<path d="M310.0 269.8 V360.65 H518" fill="none" stroke="#000" stroke-width="1.6"/>
<line x1="308.70" y1="360.65" x2="310.0" y2="360.65" stroke="#000" stroke-width="1.3"/>
<text x="304.40" y="365.85" font-size="10.7" text-anchor="end" letter-spacing="-0.6" stroke="#000" stroke-width="0.62">0</text>
<text x="304.40" y="350.15" font-size="10.7" text-anchor="end" letter-spacing="-0.6" stroke="#000" stroke-width="0.62">20</text>
<text x="304.40" y="335.25" font-size="10.7" text-anchor="end" letter-spacing="-0.6" stroke="#000" stroke-width="0.62">40</text>
<text x="304.40" y="320.05" font-size="10.7" text-anchor="end" letter-spacing="-0.6" stroke="#000" stroke-width="0.62">60</text>
<text x="304.40" y="304.75" font-size="10.7" text-anchor="end" letter-spacing="-0.6" stroke="#000" stroke-width="0.62">80</text>
<text x="303.95" y="289.45" font-size="10.7" text-anchor="end" letter-spacing="-1.05" stroke="#000" stroke-width="0.62">100</text>
<text x="319.35" y="377.90" font-size="10.8" text-anchor="middle" letter-spacing="-0.35" stroke="#000" stroke-width="0.58">0</text>
<text x="338.25" y="377.90" font-size="10.8" text-anchor="middle" letter-spacing="-0.35" stroke="#000" stroke-width="0.58">2</text>
<text x="357.15" y="377.90" font-size="10.8" text-anchor="middle" letter-spacing="-0.35" stroke="#000" stroke-width="0.58">2.3</text>
<text x="376.05" y="377.90" font-size="10.8" text-anchor="middle" letter-spacing="-0.35" stroke="#000" stroke-width="0.58">2.6</text>
<text x="394.95" y="377.90" font-size="10.8" text-anchor="middle" letter-spacing="-0.35" stroke="#000" stroke-width="0.58">3</text>
<text x="413.85" y="377.90" font-size="10.8" text-anchor="middle" letter-spacing="-0.35" stroke="#000" stroke-width="0.58">3.3</text>
<text x="432.75" y="377.90" font-size="10.8" text-anchor="middle" letter-spacing="-0.35" stroke="#000" stroke-width="0.58">3.6</text>
<text x="451.65" y="377.90" font-size="10.8" text-anchor="middle" letter-spacing="-0.35" stroke="#000" stroke-width="0.58">4</text>
<text x="470.55" y="377.90" font-size="10.8" text-anchor="middle" letter-spacing="-0.35" stroke="#000" stroke-width="0.58">4.3</text>
<text x="489.45" y="377.90" font-size="10.8" text-anchor="middle" letter-spacing="-0.35" stroke="#000" stroke-width="0.58">4.6</text>
<text x="508.35" y="377.90" font-size="10.8" text-anchor="middle" letter-spacing="-0.35" stroke="#000" stroke-width="0.58">5</text>
<text x="319.20" y="282.00" font-size="14" font-weight="bold" textLength="42.3" lengthAdjust="spacingAndGlyphs">Gata-1</text>
</g>
<g>
<path d="M308.9 388.85 H515.3 V481.7" fill="none" stroke="#808080" stroke-width="1"/>
<line x1="307.60" y1="404.00" x2="515.30" y2="404.00" stroke="#000" stroke-width="1.45"/>
<line x1="307.60" y1="419.80" x2="515.30" y2="419.80" stroke="#000" stroke-width="1.45"/>
<line x1="307.60" y1="435.30" x2="515.30" y2="435.30" stroke="#000" stroke-width="1.45"/>
<line x1="307.60" y1="450.90" x2="515.30" y2="450.90" stroke="#000" stroke-width="1.45"/>
<line x1="307.60" y1="466.50" x2="515.30" y2="466.50" stroke="#000" stroke-width="1.45"/>
<rect x="332.50" y="480.09" width="5.70" height="1.61" fill="#454545" stroke="#0c0c0c" stroke-width="1.15"/>
<rect x="375.00" y="480.09" width="5.70" height="1.61" fill="#454545" stroke="#0c0c0c" stroke-width="1.15"/>
<rect x="393.00" y="479.23" width="6.20" height="2.47" fill="#454545" stroke="#0c0c0c" stroke-width="1.15"/>
<rect x="412.50" y="475.12" width="5.20" height="6.58" fill="#454545" stroke="#0c0c0c" stroke-width="1.15"/>
<rect x="425.50" y="481.33" width="5.00" height="0.37" fill="#dcdcdc" stroke="#151515" stroke-width="1.15"/>
<rect x="431.00" y="478.07" width="5.70" height="3.63" fill="#454545" stroke="#0c0c0c" stroke-width="1.15"/>
<rect x="445.50" y="476.37" width="4.50" height="5.34" fill="#c4c4c4" stroke="#151515" stroke-width="1.15"/>
<rect x="450.50" y="469.70" width="5.20" height="12.00" fill="#454545" stroke="#0c0c0c" stroke-width="1.15"/>
<rect x="463.50" y="480.94" width="5.50" height="0.76" fill="#dcdcdc" stroke="#151515" stroke-width="1.15"/>
<rect x="469.50" y="423.20" width="4.20" height="58.50" fill="#454545" stroke="#0c0c0c" stroke-width="1.15"/>
<rect x="482.00" y="479.39" width="5.50" height="2.31" fill="#dcdcdc" stroke="#151515" stroke-width="1.15"/>
<rect x="488.00" y="430.18" width="5.20" height="51.52" fill="#454545" stroke="#0c0c0c" stroke-width="1.15"/>
<rect x="500.50" y="404.60" width="5.50" height="77.10" fill="#a5a5a5" stroke="#151515" stroke-width="1.15"/>
<rect x="506.50" y="415.61" width="5.20" height="66.09" fill="#454545" stroke="#0c0c0c" stroke-width="1.15"/>
<path d="M308.9 388.85 V481.7 H515.3" fill="none" stroke="#000" stroke-width="1.6"/>
<line x1="307.60" y1="481.70" x2="308.9" y2="481.70" stroke="#000" stroke-width="1.3"/>
<text x="304.40" y="487.15" font-size="10.7" text-anchor="end" letter-spacing="-0.6" stroke="#000" stroke-width="0.62">0</text>
<text x="304.40" y="471.25" font-size="10.7" text-anchor="end" letter-spacing="-0.6" stroke="#000" stroke-width="0.62">20</text>
<text x="304.40" y="455.65" font-size="10.7" text-anchor="end" letter-spacing="-0.6" stroke="#000" stroke-width="0.62">40</text>
<text x="304.40" y="440.05" font-size="10.7" text-anchor="end" letter-spacing="-0.6" stroke="#000" stroke-width="0.62">60</text>
<text x="304.40" y="424.55" font-size="10.7" text-anchor="end" letter-spacing="-0.6" stroke="#000" stroke-width="0.62">80</text>
<text x="303.95" y="408.75" font-size="10.7" text-anchor="end" letter-spacing="-1.05" stroke="#000" stroke-width="0.62">100</text>
<text x="319.35" y="499.10" font-size="10.8" text-anchor="middle" letter-spacing="-0.35" stroke="#000" stroke-width="0.58">0</text>
<text x="338.03" y="499.10" font-size="10.8" text-anchor="middle" letter-spacing="-0.35" stroke="#000" stroke-width="0.58">2</text>
<text x="356.71" y="499.10" font-size="10.8" text-anchor="middle" letter-spacing="-0.35" stroke="#000" stroke-width="0.58">2.3</text>
<text x="375.39" y="499.10" font-size="10.8" text-anchor="middle" letter-spacing="-0.35" stroke="#000" stroke-width="0.58">2.6</text>
<text x="394.07" y="499.10" font-size="10.8" text-anchor="middle" letter-spacing="-0.35" stroke="#000" stroke-width="0.58">3</text>
<text x="412.75" y="499.10" font-size="10.8" text-anchor="middle" letter-spacing="-0.35" stroke="#000" stroke-width="0.58">3.3</text>
<text x="431.43" y="499.10" font-size="10.8" text-anchor="middle" letter-spacing="-0.35" stroke="#000" stroke-width="0.58">3.6</text>
<text x="450.11" y="499.10" font-size="10.8" text-anchor="middle" letter-spacing="-0.35" stroke="#000" stroke-width="0.58">4</text>
<text x="468.79" y="499.10" font-size="10.8" text-anchor="middle" letter-spacing="-0.35" stroke="#000" stroke-width="0.58">4.3</text>
<text x="487.47" y="499.10" font-size="10.8" text-anchor="middle" letter-spacing="-0.35" stroke="#000" stroke-width="0.58">4.6</text>
<text x="506.15" y="499.10" font-size="10.8" text-anchor="middle" letter-spacing="-0.35" stroke="#000" stroke-width="0.58">5</text>
<text x="319.6" y="402.20" font-family="'Liberation Serif', 'DejaVu Serif', serif" font-size="13.5" fill="#333" stroke="#333" stroke-width="0.3">ε</text>
<text x="325.9" y="402.00" font-size="14" font-weight="bold" textLength="56.6" lengthAdjust="spacingAndGlyphs">Y-globin</text>
</g>
</g></svg>
</body></html>
